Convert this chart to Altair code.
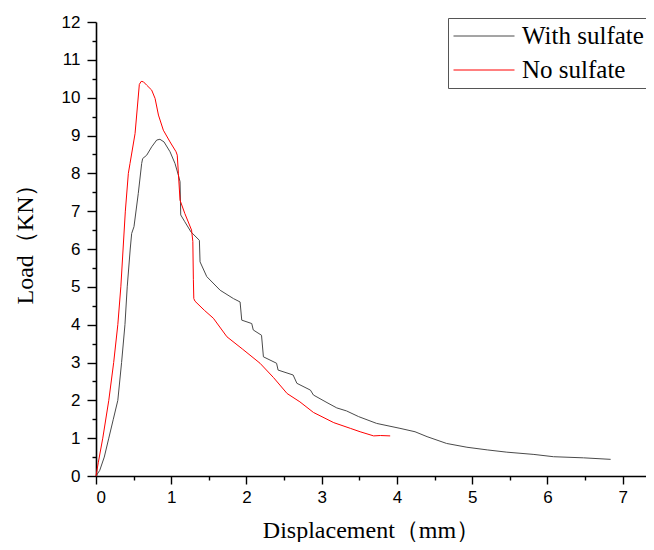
import altair as alt
import pandas as pd

# ---- data ----
with_x = [0, 0.05, 0.11, 0.17, 0.23, 0.29, 0.34, 0.385, 0.415, 0.455, 0.474, 0.505, 0.562, 0.607, 0.62, 0.674,
          0.74, 0.807, 0.85, 0.904, 0.984, 1.05, 1.095, 1.117, 1.126, 1.18, 1.263, 1.374, 1.383, 1.472, 1.65,
          1.826, 1.915, 1.937, 2.07, 2.09, 2.2, 2.225, 2.40, 2.42, 2.62, 2.67, 2.85, 2.89, 3.07, 3.20,
          3.33, 3.49, 3.73, 4.04, 4.24, 4.40, 4.66, 4.93, 5.20, 5.46, 5.82, 6.08, 6.48, 6.84]
with_y = [0, 0.15, 0.5, 1.0, 1.5, 2.0, 3.0, 4.0, 5.0, 6.0, 6.41, 6.59, 7.47, 8.26, 8.39, 8.48,
          8.7, 8.88, 8.9, 8.83, 8.57, 8.26, 7.95, 7.78, 6.9, 6.72, 6.45, 6.23, 5.66, 5.27, 4.91,
          4.69, 4.60, 4.12, 4.03, 3.86, 3.72, 3.15, 2.98, 2.80, 2.67, 2.45, 2.27, 2.14, 1.94, 1.80,
          1.72, 1.57, 1.39, 1.26, 1.17, 1.04, 0.86, 0.76, 0.69, 0.63, 0.57, 0.51, 0.48, 0.44]

no_x = [0, 0.03, 0.09, 0.17, 0.235, 0.29, 0.33, 0.36, 0.39, 0.43, 0.452, 0.519, 0.576, 0.60,
        0.63, 0.674, 0.74, 0.785, 0.83, 0.895, 0.984, 1.064, 1.08, 1.095, 1.117, 1.18, 1.27, 1.287, 1.294,
        1.30, 1.316, 1.44, 1.56, 1.74, 1.95, 2.18, 2.36, 2.54, 2.71, 2.89, 3.16, 3.38, 3.51, 3.69,
        3.78, 3.91]
no_y = [0, 0.35, 1.0, 2.0, 3.0, 4.0, 5.0, 6.0, 7.0, 8.0, 8.26, 9.05, 10.35, 10.43,
        10.42, 10.33, 10.2, 9.98, 9.54, 9.14, 8.83, 8.57, 8.48, 8.0, 7.29, 6.94, 6.5, 6.2, 5.2,
        4.69, 4.62, 4.38, 4.17, 3.68, 3.35, 2.98, 2.6, 2.18, 1.96, 1.68, 1.41, 1.26, 1.17, 1.06,
        1.07, 1.06]

series_names = ["With sulfate", "No sulfate"]
series_colors = ["#4a4a4a", "#ff0000"]

x_major = [0, 1, 2, 3, 4, 5, 6, 7]
x_minor = [0.5, 1.5, 2.5, 3.5, 4.5, 5.5, 6.5]
y_major = [0, 1, 2, 3, 4, 5, 6, 7, 8, 9, 10, 11, 12]
y_minor = [0.5, 1.5, 2.5, 3.5, 4.5, 5.5, 6.5, 7.5, 8.5, 9.5, 10.5, 11.5]

rows = []
for i, (xv, yv) in enumerate(zip(with_x, with_y)):
    rows.append({"x": xv, "y": yv, "series": series_names[0], "i": i})
for i, (xv, yv) in enumerate(zip(no_x, no_y)):
    rows.append({"x": xv, "y": yv, "series": series_names[1], "i": i})
df = pd.DataFrame(rows)

x_scale = alt.Scale(domain=[0, 7.31], nice=False, zero=False)
y_scale = alt.Scale(domain=[0, 12], nice=False, zero=False)

common = dict(grid=False, domainColor="black", tickColor="black", labelColor="black",
              labelFont="Liberation Sans", labelFontSize=17, tickWidth=1.4, domainWidth=1.6)

lines = alt.Chart(df).mark_line(strokeWidth=1).encode(
    x=alt.X("x:Q", scale=x_scale,
            axis=alt.Axis(values=x_major, tickSize=8, labelPadding=5, orient="bottom",
                          title="Displacement（mm）", titleFont="Liberation Serif", titleFontSize=24,
                          titleFontWeight="normal", titleColor="black", titleY=61,
                          titleBaseline="alphabetic", **common)),
    y=alt.Y("y:Q", scale=y_scale,
            axis=alt.Axis(values=y_major, tickSize=9, labelPadding=7, orient="left",
                          title="Load（KN）", titleFont="Liberation Serif", titleFontSize=24,
                          titleFontWeight="normal", titleColor="black", titleX=-64, titleY=216,
                          titleAngle=270, titleBaseline="alphabetic", **common)),
    color=alt.Color("series:N", scale=alt.Scale(domain=series_names, range=series_colors),
                    legend=alt.Legend(orient="none", legendX=352, legendY=-4, title=None,
                                      padding=5, strokeColor="#555555", fillColor="white",
                                      symbolType="stroke", symbolSize=3721, symbolStrokeWidth=1,
                                      labelFont="Liberation Serif", labelFontSize=25,
                                      labelColor="black", labelOffset=7, clipHeight=26,
                                      rowPadding=8, labelLimit=400,
                                      labelExpr="datum.label + '          '")),
    order="i:Q",
)

minor = alt.Chart(df).mark_point(opacity=0).encode(
    x=alt.X("x:Q", scale=x_scale,
            axis=alt.Axis(values=x_minor, tickSize=4, labels=False, domain=False, title=None,
                          orient="bottom", grid=False, tickColor="black", tickWidth=1.4)),
    y=alt.Y("y:Q", scale=y_scale,
            axis=alt.Axis(values=y_minor, tickSize=4, labels=False, domain=False, title=None,
                          orient="left", grid=False, tickColor="black", tickWidth=1.4)),
)

chart = alt.layer(lines, minor).resolve_axis(x="independent", y="independent").properties(
    width=550, height=454,
    autosize=alt.AutoSizeParams(type="none"),
    padding={"left": 88, "top": 14, "right": 0, "bottom": 66},
    background="white",
).configure_view(stroke=None)

chart.save("out.html", embed_options={"renderer": "svg", "actions": False})
